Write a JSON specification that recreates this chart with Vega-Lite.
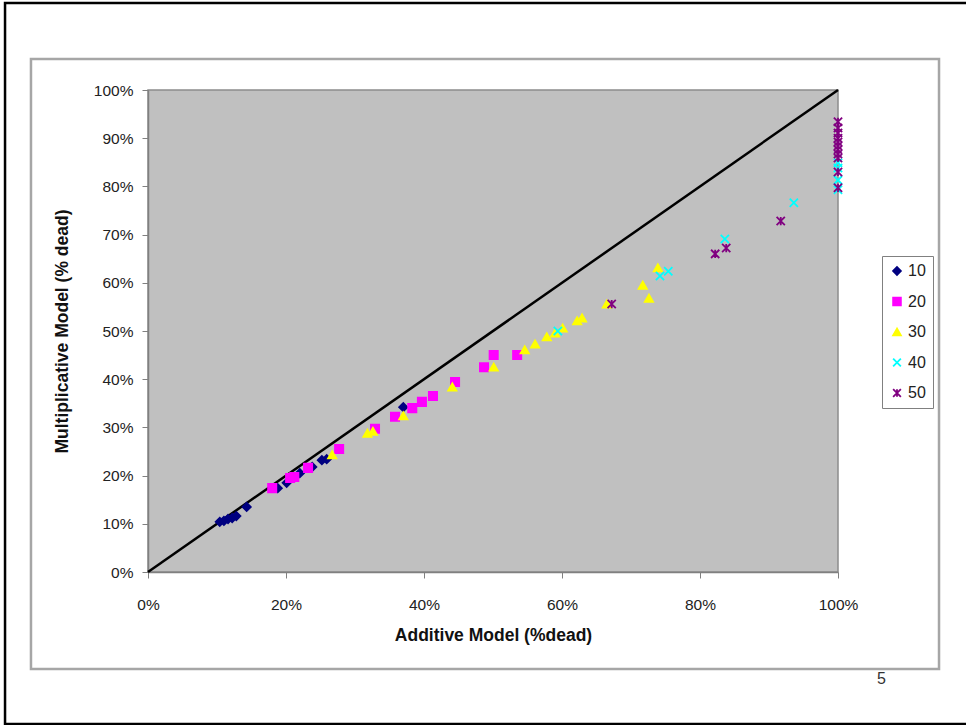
{
  "$schema": "https://vega.github.io/schema/vega-lite/v6.json",
  "width": 690,
  "height": 482,
  "autosize": "none",
  "padding": {"left": 148, "top": 90, "right": 128, "bottom": 153},
  "background": "white",
  "title": {"text": "5", "orient": "bottom", "anchor": "end", "frame": "group", "dx": 48, "offset": -54, "fontSize": 16, "fontWeight": "normal", "color": "#333333", "font": "Liberation Sans"},
  "config": {
    "font": "Liberation Sans",
    "view": {"fill": "#C0C0C0", "stroke": "#8c8c8c", "strokeWidth": 1.5},
    "axis": {"grid": false, "domainColor": "#808080", "tickColor": "#808080", "labelColor": "#222222", "labelFontSize": 15.5, "titleFontSize": 17.5, "titleFontWeight": "bold", "titleColor": "#111111", "domainWidth": 1.5, "labelFlush": false}
  },
  "datasets": {
    "diag": [{"x": 0, "y": 0}, {"x": 1, "y": 1}],
    "pts": [
      {"x": 0.104, "y": 0.104, "series": "10"},
      {"x": 0.110, "y": 0.106, "series": "10"},
      {"x": 0.116, "y": 0.110, "series": "10"},
      {"x": 0.122, "y": 0.112, "series": "10"},
      {"x": 0.128, "y": 0.116, "series": "10"},
      {"x": 0.143, "y": 0.135, "series": "10"},
      {"x": 0.188, "y": 0.174, "series": "10"},
      {"x": 0.201, "y": 0.185, "series": "10"},
      {"x": 0.220, "y": 0.205, "series": "10"},
      {"x": 0.238, "y": 0.218, "series": "10"},
      {"x": 0.252, "y": 0.232, "series": "10"},
      {"x": 0.259, "y": 0.234, "series": "10"},
      {"x": 0.370, "y": 0.342, "series": "10"},
      {"x": 0.180, "y": 0.174, "series": "20"},
      {"x": 0.206, "y": 0.195, "series": "20"},
      {"x": 0.212, "y": 0.197, "series": "20"},
      {"x": 0.232, "y": 0.216, "series": "20"},
      {"x": 0.277, "y": 0.255, "series": "20"},
      {"x": 0.329, "y": 0.297, "series": "20"},
      {"x": 0.358, "y": 0.322, "series": "20"},
      {"x": 0.383, "y": 0.340, "series": "20"},
      {"x": 0.397, "y": 0.353, "series": "20"},
      {"x": 0.413, "y": 0.365, "series": "20"},
      {"x": 0.445, "y": 0.394, "series": "20"},
      {"x": 0.487, "y": 0.425, "series": "20"},
      {"x": 0.501, "y": 0.450, "series": "20"},
      {"x": 0.535, "y": 0.450, "series": "20"},
      {"x": 0.267, "y": 0.243, "series": "30"},
      {"x": 0.318, "y": 0.288, "series": "30"},
      {"x": 0.326, "y": 0.292, "series": "30"},
      {"x": 0.370, "y": 0.324, "series": "30"},
      {"x": 0.441, "y": 0.384, "series": "30"},
      {"x": 0.501, "y": 0.425, "series": "30"},
      {"x": 0.546, "y": 0.461, "series": "30"},
      {"x": 0.561, "y": 0.473, "series": "30"},
      {"x": 0.578, "y": 0.488, "series": "30"},
      {"x": 0.590, "y": 0.496, "series": "30"},
      {"x": 0.601, "y": 0.506, "series": "30"},
      {"x": 0.622, "y": 0.521, "series": "30"},
      {"x": 0.629, "y": 0.527, "series": "30"},
      {"x": 0.665, "y": 0.556, "series": "30"},
      {"x": 0.717, "y": 0.595, "series": "30"},
      {"x": 0.726, "y": 0.568, "series": "30"},
      {"x": 0.739, "y": 0.631, "series": "30"},
      {"x": 0.594, "y": 0.500, "series": "40"},
      {"x": 0.742, "y": 0.614, "series": "40"},
      {"x": 0.754, "y": 0.624, "series": "40"},
      {"x": 0.836, "y": 0.691, "series": "40"},
      {"x": 0.936, "y": 0.766, "series": "40"},
      {"x": 1.0, "y": 0.849, "series": "40"},
      {"x": 1.0, "y": 0.838, "series": "40"},
      {"x": 1.0, "y": 0.813, "series": "40"},
      {"x": 1.0, "y": 0.793, "series": "40"},
      {"x": 0.672, "y": 0.556, "series": "50"},
      {"x": 0.822, "y": 0.660, "series": "50"},
      {"x": 0.838, "y": 0.672, "series": "50"},
      {"x": 0.917, "y": 0.728, "series": "50"},
      {"x": 1.0, "y": 0.934, "series": "50"},
      {"x": 1.0, "y": 0.921, "series": "50"},
      {"x": 1.0, "y": 0.911, "series": "50"},
      {"x": 1.0, "y": 0.900, "series": "50"},
      {"x": 1.0, "y": 0.892, "series": "50"},
      {"x": 1.0, "y": 0.884, "series": "50"},
      {"x": 1.0, "y": 0.876, "series": "50"},
      {"x": 1.0, "y": 0.867, "series": "50"},
      {"x": 1.0, "y": 0.859, "series": "50"},
      {"x": 1.0, "y": 0.830, "series": "50"},
      {"x": 1.0, "y": 0.797, "series": "50"}
    ]
  },
  "layer": [
    {
      "data": {"values": [{}]},
      "mark": {"type": "rect", "fill": "transparent", "stroke": "#000000", "strokeWidth": 2.5, "clip": false},
      "encoding": {
        "x": {"datum": -0.2072, "type": "quantitative", "scale": {"domain": [0, 1], "nice": false},
          "axis": {"title": "Additive Model (%dead)", "format": ".0%", "values": [0, 0.2, 0.4, 0.6, 0.8, 1], "tickSize": 6, "labelPadding": 19, "titlePadding": 14}},
        "x2": {"datum": 1.19},
        "y": {"datum": 1.1805, "type": "quantitative", "scale": {"domain": [0, 1], "nice": false},
          "axis": {"title": "Multiplicative Model (% dead)", "format": ".0%", "values": [0, 0.1, 0.2, 0.3, 0.4, 0.5, 0.6, 0.7, 0.8, 0.9, 1], "tickSize": 6, "labelPadding": 9, "titlePadding": 22}},
        "y2": {"datum": -0.3154}
      }
    },
    {
      "data": {"values": [{}]},
      "mark": {"type": "rect", "fill": "transparent", "stroke": "#a6a6a6", "strokeWidth": 2.5, "clip": false},
      "encoding": {
        "x": {"datum": -0.1696, "type": "quantitative"},
        "x2": {"datum": 1.1464},
        "y": {"datum": 1.0643, "type": "quantitative"},
        "y2": {"datum": -0.2012}
      }
    },
    {
      "data": {"name": "diag"},
      "mark": {"type": "line", "color": "#000000", "strokeWidth": 2.5},
      "encoding": {
        "x": {"field": "x", "type": "quantitative"},
        "y": {"field": "y", "type": "quantitative"}
      }
    },
    {
      "data": {"name": "pts"},
      "mark": {"type": "point", "filled": true, "size": 68, "strokeWidth": 1.8, "opacity": 1},
      "encoding": {
        "x": {"field": "x", "type": "quantitative", "title": "Additive Model (%dead)"},
        "y": {"field": "y", "type": "quantitative", "title": "Multiplicative Model (% dead)"},
        "color": {"field": "series", "type": "nominal",
          "scale": {"domain": ["10", "20", "30", "40", "50"], "range": ["#000080", "#FF00FF", "#FFFF00", "#00FFFF", "#800080"]},
          "legend": {"title": null, "orient": "none", "legendX": 734, "legendY": 166, "strokeColor": "#808080", "padding": 7, "labelFontSize": 16, "rowPadding": 14.5, "symbolSize": 60, "symbolStrokeWidth": 1.8, "labelColor": "#222222", "labelOffset": 3}},
        "stroke": {"field": "series", "type": "nominal",
          "scale": {"domain": ["10", "20", "30", "40", "50"], "range": ["#000080", "#FF00FF", "#FFFF00", "#00FFFF", "#800080"]},
          "legend": {"title": null, "orient": "none", "legendX": 734, "legendY": 166, "strokeColor": "#808080", "padding": 7, "labelFontSize": 16, "rowPadding": 14.5, "symbolSize": 60, "symbolStrokeWidth": 1.8, "labelColor": "#222222", "labelOffset": 3}},
        "shape": {"field": "series", "type": "nominal",
          "scale": {"domain": ["10", "20", "30", "40", "50"], "range": ["diamond", "square", "triangle-up", "M-1,-1L1,1M-1,1L1,-1", "M-1,-1L1,1M-1,1L1,-1M0,-1L0,1"]},
          "legend": {"title": null, "orient": "none", "legendX": 734, "legendY": 166, "strokeColor": "#808080", "padding": 7, "labelFontSize": 16, "rowPadding": 14.5, "symbolSize": 60, "symbolStrokeWidth": 1.8, "labelColor": "#222222", "labelOffset": 3}}
      }
    }
  ]
}
